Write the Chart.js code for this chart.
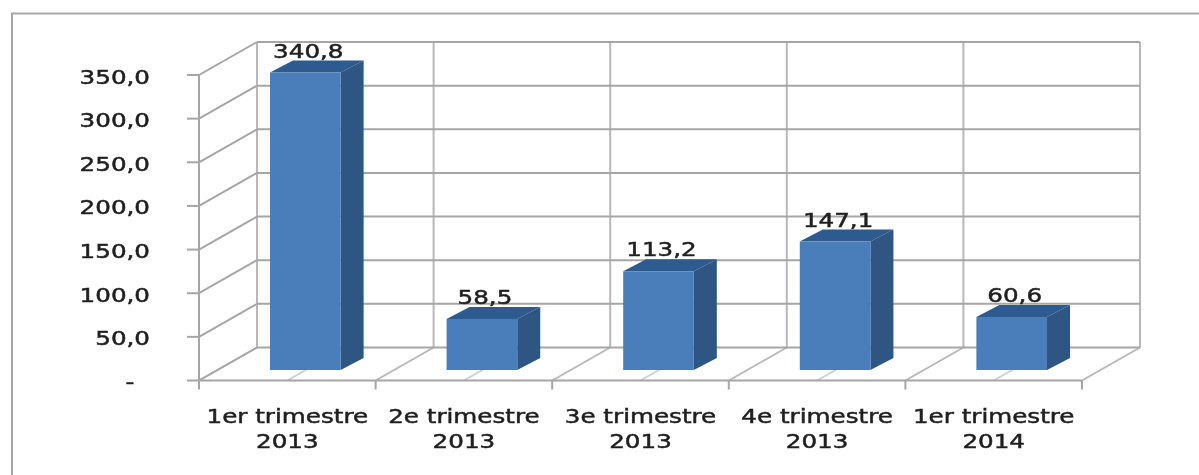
<!DOCTYPE html>
<html>
<head>
<meta charset="utf-8">
<style>
  html, body { margin: 0; padding: 0; background: #fff; }
  #wrap { position: relative; width: 1199px; height: 475px; }
</style>
<script src="https://cdn.jsdelivr.net/npm/chart.js@4"></script>
</head>
<body>
<div id="wrap"><canvas id="chart" width="1199" height="475"></canvas></div>
<script>
const categories = [['1er trimestre', '2013'], ['2e trimestre', '2013'], ['3e trimestre', '2013'], ['4e trimestre', '2013'], ['1er trimestre', '2014']];
const values = [340.8, 58.5, 113.2, 147.1, 60.6];
const yMax = 350;
const yStep = 50;

const gridColor = '#a6a6a6';
const wallColor = '#b8b8b8';
const textColor = '#1f1f1f';
const fontFamily = '"DejaVu Sans", Verdana, sans-serif';
const textStretch = 1.23; // the reference text is wider than any installed font

// depth of the fake 3D box
const wallDx = 58, wallDy = -33;
// bar front face sits a bit inside the box
const barDx = 18, barDy = -10.5;
const sideDx = 23, sideDy = -12;

function fmt(v) {
    return v.toFixed(1).replace('.', ',');
}

function line(ctx, x1, y1, x2, y2) {
    ctx.beginPath();
    ctx.moveTo(x1, y1);
    ctx.lineTo(x2, y2);
    ctx.stroke();
}

// text squeezed out horizontally around its anchor, with a thin stroke for weight
function wideText(ctx, text, x, y, align) {
    ctx.save();
    ctx.translate(x, y);
    ctx.scale(textStretch, 1);
    ctx.font = '20px ' + fontFamily;
    ctx.textAlign = align;
    ctx.textBaseline = 'alphabetic';
    ctx.fillStyle = textColor;
    ctx.strokeStyle = textColor;
    ctx.lineWidth = 0.5;
    ctx.fillText(text, 0, 0);
    ctx.strokeText(text, 0, 0);
    ctx.restore();
}

const frame = {
    id: 'frame',
    beforeDraw(chart) {
        const ctx = chart.ctx;
        ctx.save();
        ctx.fillStyle = '#fff';
        ctx.fillRect(0, 0, chart.width, chart.height);
        ctx.strokeStyle = '#a8a8a8';
        ctx.lineWidth = 2;
        ctx.beginPath();
        ctx.moveTo(12, 475);
        ctx.lineTo(12, 13.5);
        ctx.lineTo(1199, 13.5);
        ctx.stroke();
        ctx.restore();
    }
};

const box3d = {
    id: 'box3d',
    beforeDatasetsDraw(chart) {
        const ctx = chart.ctx;
        const xs = chart.scales.x, ys = chart.scales.y;
        const left = chart.chartArea.left, right = chart.chartArea.right;
        const bottom = ys.getPixelForValue(0), top = ys.getPixelForValue(yMax);
        const slot = (right - left) / categories.length;
        ctx.save();
        ctx.lineWidth = 2;
        // back verticals
        ctx.strokeStyle = wallColor;
        for (let i = 0; i <= categories.length; i++) {
            const x = left + slot * i;
            line(ctx, x + wallDx, bottom + wallDy, x + wallDx, top + wallDy);
        }
        // floor lines, boundaries and slot centres
        for (let i = 0; i <= categories.length; i++) {
            const x = left + slot * i;
            ctx.strokeStyle = wallColor;
            line(ctx, x, bottom, x + wallDx, bottom + wallDy);
            if (i < categories.length) {
                ctx.strokeStyle = '#cfcfcf';
                line(ctx, xs.getPixelForTick(i), bottom, xs.getPixelForTick(i) + wallDx, bottom + wallDy);
            }
        }
        // back wall and left wall
        ctx.strokeStyle = gridColor;
        for (let v = 0; v <= yMax; v += yStep) {
            const y = ys.getPixelForValue(v);
            line(ctx, left - 12, y, left, y);
            line(ctx, left, y, left + wallDx, y + wallDy);
            line(ctx, left + wallDx, y + wallDy, right + wallDx, y + wallDy);
        }
        for (let i = 0; i <= categories.length; i++) {
            const x = left + slot * i;
            line(ctx, x, bottom, x, bottom + 9);
        }
        line(ctx, left, bottom, left, top);
        line(ctx, left, bottom, right, bottom);
        ctx.restore();

        // axis labels from the scales' own ticks
        ys.ticks.forEach((tick, i) => {
            wideText(ctx, tick.label, 150, ys.getPixelForTick(i) + 8.5, 'right');
        });
        xs.ticks.forEach((tick, i) => {
            tick.label.forEach((txt, j) => {
                wideText(ctx, txt, xs.getPixelForTick(i), 422.5 + j * 25.5, 'center');
            });
        });

        const meta = chart.getDatasetMeta(0);
        // value labels go under the bars: the top face clips their commas
        meta.data.forEach((bar, i) => {
            wideText(ctx, fmt(values[i]), bar.x + barDx + 3, bar.y + barDy - 15, 'center');
        });

        // side and top faces of each bar, behind the front face
        ctx.save();
        ctx.translate(barDx, barDy);
        meta.data.forEach(bar => {
            const l = bar.x - bar.width / 2, r = bar.x + bar.width / 2;
            ctx.fillStyle = '#2f5583';
            ctx.beginPath();
            ctx.moveTo(r, bar.y);
            ctx.lineTo(r + sideDx, bar.y + sideDy);
            ctx.lineTo(r + sideDx, bar.base + sideDy);
            ctx.lineTo(r, bar.base);
            ctx.closePath();
            ctx.fill();
            ctx.fillStyle = '#2d5a8f';
            ctx.beginPath();
            ctx.moveTo(l, bar.y);
            ctx.lineTo(l + sideDx, bar.y + sideDy);
            ctx.lineTo(r + sideDx, bar.y + sideDy);
            ctx.lineTo(r, bar.y);
            ctx.closePath();
            ctx.fill();
        });
        ctx.restore();
        // the front faces come from Chart.js, shifted with the same translate
        ctx.save();
        ctx.translate(barDx, barDy);
    },
    afterDatasetsDraw(chart) {
        chart.ctx.restore();
    }
};

new Chart(document.getElementById('chart'), {
    type: 'bar',
    data: {
        labels: categories,
        datasets: [{
            data: values,
            backgroundColor: '#4a7ebb',
            borderWidth: 0,
            barPercentage: 0.8,
            categoryPercentage: 0.5
        }]
    },
    plugins: [frame, box3d],
    options: {
        responsive: false,
        animation: false,
        layout: { padding: { top: 75, left: 0, right: 117, bottom: 0 } },
        plugins: { legend: { display: false }, tooltip: { enabled: false } },
        scales: {
            x: {
                grid: { display: false },
                border: { display: false },
                ticks: { display: false, autoSkip: false },
                afterFit(scale) { scale.height = 94.5; }
            },
            y: {
                min: 0,
                max: yMax,
                grid: { display: false },
                border: { display: false },
                ticks: {
                    display: false,
                    stepSize: yStep,
                    callback: v => v === 0 ? '-  ' : fmt(v)
                },
                afterFit(scale) { scale.width = 199; }
            }
        }
    }
});
</script>
</body>
</html>
